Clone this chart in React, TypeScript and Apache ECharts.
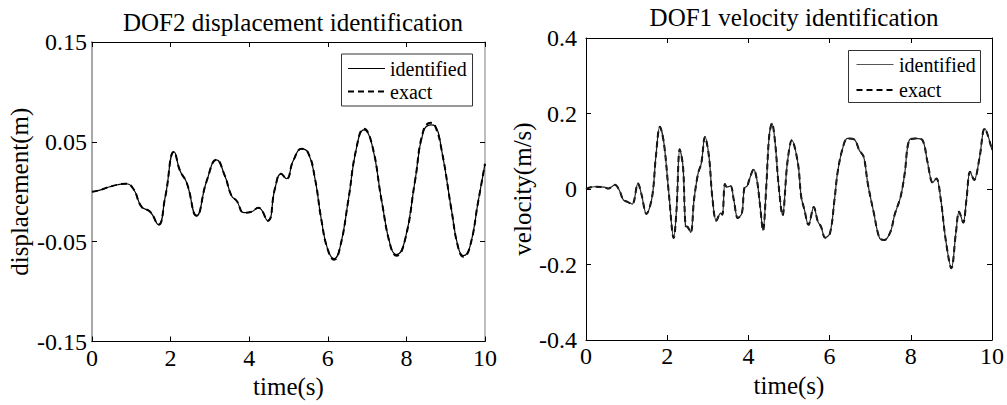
import React, { useEffect, useRef } from "react";
import * as echarts from "echarts";

// ---------- data ----------
const dispTime = [0, 0.2, 0.45, 0.65, 0.85, 1.05, 1.26, 1.48, 1.69, 1.86, 2.09, 2.24, 2.41, 2.66, 2.92, 3.17, 3.38, 3.55, 3.68, 3.87, 4.06, 4.23, 4.47, 4.66, 4.81, 4.95, 5.12, 5.34, 5.5, 5.67, 5.84, 6.0, 6.16, 6.31, 6.52, 6.73, 6.92, 7.12, 7.37, 7.6, 7.75, 7.96, 8.22, 8.43, 8.62, 8.73, 8.9, 9.15, 9.32, 9.45, 9.61, 9.83, 10.0];
const dispExact = [0.0, 0.0017, 0.005, 0.007, 0.008, 0.003, -0.015, -0.02, -0.033, -0.006, 0.04, 0.021, 0.009, -0.024, 0.011, 0.032, 0.016, -0.004, -0.009, -0.021, -0.02, -0.016, -0.029, 0.004, 0.018, 0.013, 0.031, 0.043, 0.039, 0.014, -0.029, -0.058, -0.068, -0.056, -0.009, 0.044, 0.063, 0.048, -0.009, -0.055, -0.064, -0.049, 0.011, 0.061, 0.069, 0.066, 0.041, -0.019, -0.056, -0.065, -0.056, -0.009, 0.028];
const dispIdentified = [0.0, 0.0017, 0.005, 0.007, 0.008, 0.003, -0.015, -0.02, -0.033, -0.006, 0.04, 0.021, 0.009, -0.024, 0.011, 0.032, 0.016, -0.004, -0.009, -0.021, -0.02, -0.016, -0.029, 0.004, 0.018, 0.013, 0.031, 0.043, 0.039, 0.014, -0.029, -0.058, -0.067, -0.056, -0.009, 0.044, 0.062, 0.048, -0.009, -0.055, -0.063, -0.049, 0.011, 0.06, 0.067, 0.066, 0.041, -0.019, -0.056, -0.064, -0.056, -0.009, 0.028];

const velTime = [0, 0.2, 0.45, 0.55, 0.71, 0.82, 0.92, 1.02, 1.14, 1.28, 1.36, 1.49, 1.63, 1.72, 1.82, 1.92, 2.04, 2.16, 2.23, 2.31, 2.39, 2.45, 2.5, 2.58, 2.66, 2.76, 2.84, 2.93, 3.03, 3.11, 3.21, 3.32, 3.36, 3.42, 3.47, 3.56, 3.64, 3.74, 3.84, 3.9, 3.97, 4.02, 4.13, 4.21, 4.29, 4.36, 4.44, 4.51, 4.58, 4.66, 4.74, 4.84, 4.96, 5.07, 5.22, 5.3, 5.38, 5.48, 5.61, 5.71, 5.79, 5.89, 6.01, 6.12, 6.2, 6.32, 6.44, 6.61, 6.73, 6.84, 6.94, 7.09, 7.23, 7.35, 7.5, 7.6, 7.75, 7.85, 7.96, 8.12, 8.29, 8.41, 8.54, 8.63, 8.74, 8.86, 9.0, 9.11, 9.19, 9.29, 9.37, 9.46, 9.56, 9.69, 9.82, 10.0];
const velExact = [0, 0.006, 0.005, 0.001, 0.011, -0.003, -0.029, -0.034, -0.04, 0.015, -0.011, -0.066, -0.02, 0.085, 0.165, 0.121, -0.011, -0.13, -0.055, 0.105, 0.059, -0.098, -0.1, -0.115, -0.029, 0.041, 0.068, 0.138, 0.085, -0.02, -0.084, -0.064, -0.068, 0.013, 0.005, 0.008, -0.029, -0.077, -0.064, 0.002, 0.008, 0.024, 0.052, 0.024, -0.047, -0.11, 0.006, 0.138, 0.174, 0.121, 0.015, -0.07, 0.07, 0.129, 0.068, -0.02, -0.055, -0.095, -0.048, -0.086, -0.1, -0.129, -0.117, -0.029, 0.046, 0.107, 0.134, 0.131, 0.103, 0.085, 0.015, -0.064, -0.13, -0.135, -0.113, -0.069, -0.02, 0.041, 0.129, 0.134, 0.129, 0.072, 0.017, 0.028, -0.029, -0.135, -0.21, -0.117, -0.06, -0.089, -0.029, 0.046, 0.024, 0.081, 0.16, 0.103];
const velIdentified = [0, 0.006, 0.005, 0.001, 0.011, -0.003, -0.029, -0.034, -0.04, 0.015, -0.011, -0.066, -0.02, 0.085, 0.165, 0.121, -0.011, -0.13, -0.055, 0.105, 0.059, -0.098, -0.1, -0.115, -0.029, 0.041, 0.068, 0.138, 0.085, -0.02, -0.084, -0.064, -0.068, 0.013, 0.005, 0.008, -0.029, -0.077, -0.064, 0.002, 0.008, 0.024, 0.052, 0.024, -0.047, -0.11, 0.006, 0.138, 0.174, 0.121, 0.015, -0.07, 0.07, 0.129, 0.068, -0.02, -0.055, -0.095, -0.048, -0.086, -0.1, -0.129, -0.117, -0.029, 0.046, 0.107, 0.134, 0.131, 0.103, 0.085, 0.015, -0.064, -0.13, -0.135, -0.113, -0.069, -0.02, 0.041, 0.129, 0.134, 0.129, 0.072, 0.017, 0.028, -0.029, -0.135, -0.21, -0.117, -0.06, -0.089, -0.029, 0.046, 0.024, 0.081, 0.16, 0.103];

const xTicks = [0, 2, 4, 6, 8, 10];
const dispTicks = [-0.15, -0.05, 0.05, 0.15];
const velTicks = [-0.4, -0.2, 0, 0.2, 0.4];

const titles = ["DOF2 displacement identification", "DOF1 velocity identification"];
const legendNames = ["identified", "exact"];

const FONT = "Liberation Serif";

const zip = (t: number[], v: number[]) => t.map((x, i) => [x, v[i]]);

export default function App() {
  const ref = useRef<HTMLDivElement>(null);
  useEffect(() => {
    document.body.style.margin = "0";
    if (!ref.current) return;
    const chart = echarts.init(ref.current, undefined, { renderer: "svg" });

    const tickLabel = { fontFamily: FONT, fontSize: 24, color: "#000" };
    const nameStyle = { fontFamily: FONT, fontSize: 25, color: "#000" };

    const xMain = (gi: number) => ({
      type: "value",
      gridIndex: gi,
      position: "bottom",
      min: xTicks[0],
      max: xTicks[xTicks.length - 1],
      interval: 2,
      axisLine: { onZero: false, lineStyle: { color: "#000", width: 1 } },
      axisTick: { inside: true, length: 5, lineStyle: { color: "#000" } },
      axisLabel: { ...tickLabel, margin: 4 },
      splitLine: { show: false },
      name: "time(s)",
      nameLocation: "middle",
      nameGap: 30,
      nameTextStyle: nameStyle,
    });
    const xTop = (gi: number) => ({
      type: "value",
      gridIndex: gi,
      position: "top",
      min: xTicks[0],
      max: xTicks[xTicks.length - 1],
      interval: 2,
      axisLine: { onZero: false, lineStyle: { color: "#000", width: 1 } },
      axisTick: { inside: true, length: 5, lineStyle: { color: "#000" } },
      axisLabel: { show: false },
      splitLine: { show: false },
    });

    const vColorL = "#a8a8a8";

    const option: any = {
      animation: false,
      backgroundColor: "#fff",
      textStyle: { fontFamily: FONT },
      title: [
        { text: titles[0], left: 288, top: 5, textAlign: "center", textStyle: { ...nameStyle, fontWeight: "normal" } },
        { text: titles[1], left: 789, top: 0, textAlign: "center", textStyle: { ...nameStyle, fontWeight: "normal" } },
      ],
      grid: [
        { left: 92, top: 42, width: 393, height: 299.5 },
        { left: 586, top: 38, width: 407, height: 302 },
      ],
      xAxis: [xMain(0), xTop(0), xMain(1), xTop(1)],
      yAxis: [
        {
          type: "value",
          gridIndex: 0,
          position: "left",
          min: dispTicks[0],
          max: dispTicks[dispTicks.length - 1],
          axisLine: { onZero: false, lineStyle: { color: vColorL, width: 2 } },
          axisTick: { inside: true, length: 5, lineStyle: { color: "#000" }, customValues: dispTicks },
          axisLabel: { ...tickLabel, margin: 5, customValues: dispTicks },
          splitLine: { show: false },
          name: "displacement(m)",
          nameLocation: "middle",
          nameGap: 60,
          nameTextStyle: nameStyle,
        },
        {
          type: "value",
          gridIndex: 0,
          position: "right",
          min: dispTicks[0],
          max: dispTicks[dispTicks.length - 1],
          axisLine: { onZero: false, lineStyle: { color: vColorL, width: 1.5 } },
          axisTick: { inside: true, length: 5, lineStyle: { color: "#000" }, customValues: dispTicks },
          axisLabel: { show: false, customValues: dispTicks },
          splitLine: { show: false },
        },
        {
          type: "value",
          gridIndex: 1,
          position: "left",
          min: velTicks[0],
          max: velTicks[velTicks.length - 1],
          interval: 0.2,
          axisLine: { onZero: false, lineStyle: { color: "#000", width: 1 } },
          axisTick: { inside: true, length: 5, lineStyle: { color: "#000" } },
          axisLabel: { ...tickLabel, margin: 9 },
          splitLine: { show: false },
          name: "velocity(m/s)",
          nameLocation: "middle",
          nameGap: 42,
          nameTextStyle: nameStyle,
        },
        {
          type: "value",
          gridIndex: 1,
          position: "right",
          min: velTicks[0],
          max: velTicks[velTicks.length - 1],
          interval: 0.2,
          axisLine: { onZero: false, lineStyle: { color: "#000", width: 1 } },
          axisTick: { inside: true, length: 5, lineStyle: { color: "#000" } },
          axisLabel: { show: false },
          splitLine: { show: false },
        },
      ],
      series: [
        {
          name: legendNames[1], type: "line", xAxisIndex: 0, yAxisIndex: 0,
          data: zip(dispTime, dispExact), showSymbol: false, smooth: 0.5,
          lineStyle: { color: "#000", width: 2, type: [6, 4] }, z: 2,
        },
        {
          name: legendNames[0], type: "line", xAxisIndex: 0, yAxisIndex: 0,
          data: zip(dispTime, dispIdentified), showSymbol: false, smooth: 0.5,
          lineStyle: { color: "#000", width: 1.2 }, z: 3,
        },
        {
          name: legendNames[1], type: "line", xAxisIndex: 2, yAxisIndex: 2,
          data: zip(velTime, velExact), showSymbol: false, smooth: 0.35,
          lineStyle: { color: "#000", width: 2, type: [6, 4] }, z: 2,
        },
        {
          name: legendNames[0], type: "line", xAxisIndex: 2, yAxisIndex: 2,
          data: zip(velTime, velIdentified), showSymbol: false, smooth: 0.35,
          lineStyle: { color: "#222", width: 1.2 }, z: 3,
        },
      ],
      graphic: [
        // left legend
        { type: "rect", z: 100, shape: { x: 341.5, y: 54, width: 131, height: 52 }, style: { fill: "#fff", stroke: "#333", lineWidth: 1 } },
        { type: "line", z: 101, shape: { x1: 348, y1: 68.5, x2: 385, y2: 68.5 }, style: { stroke: "#000", lineWidth: 1 } },
        { type: "text", z: 101, x: 390, y: 68.5, style: { text: legendNames[0], font: `20px "${FONT}"`, fill: "#000", verticalAlign: "middle" } },
        { type: "line", z: 101, shape: { x1: 348, y1: 91.5, x2: 385, y2: 91.5 }, style: { stroke: "#000", lineWidth: 2, lineDash: [6, 4] } },
        { type: "text", z: 101, x: 390, y: 91.5, style: { text: legendNames[1], font: `20px "${FONT}"`, fill: "#000", verticalAlign: "middle" } },
        // right legend
        { type: "rect", z: 100, shape: { x: 848.5, y: 50.5, width: 132, height: 52 }, style: { fill: "#fff", stroke: "#333", lineWidth: 1 } },
        { type: "line", z: 101, shape: { x1: 856.5, y1: 64.5, x2: 893.5, y2: 64.5 }, style: { stroke: "#555", lineWidth: 1 } },
        { type: "text", z: 101, x: 899, y: 64.5, style: { text: legendNames[0], font: `20px "${FONT}"`, fill: "#000", verticalAlign: "middle" } },
        { type: "line", z: 101, shape: { x1: 856.5, y1: 90, x2: 893.5, y2: 90 }, style: { stroke: "#000", lineWidth: 2, lineDash: [6, 4] } },
        { type: "text", z: 101, x: 899, y: 90, style: { text: legendNames[1], font: `20px "${FONT}"`, fill: "#000", verticalAlign: "middle" } },
      ],
    };
    chart.setOption(option);
    return () => chart.dispose();
  }, []);
  return <div ref={ref} style={{ width: 1007, height: 405 }} />;
}
